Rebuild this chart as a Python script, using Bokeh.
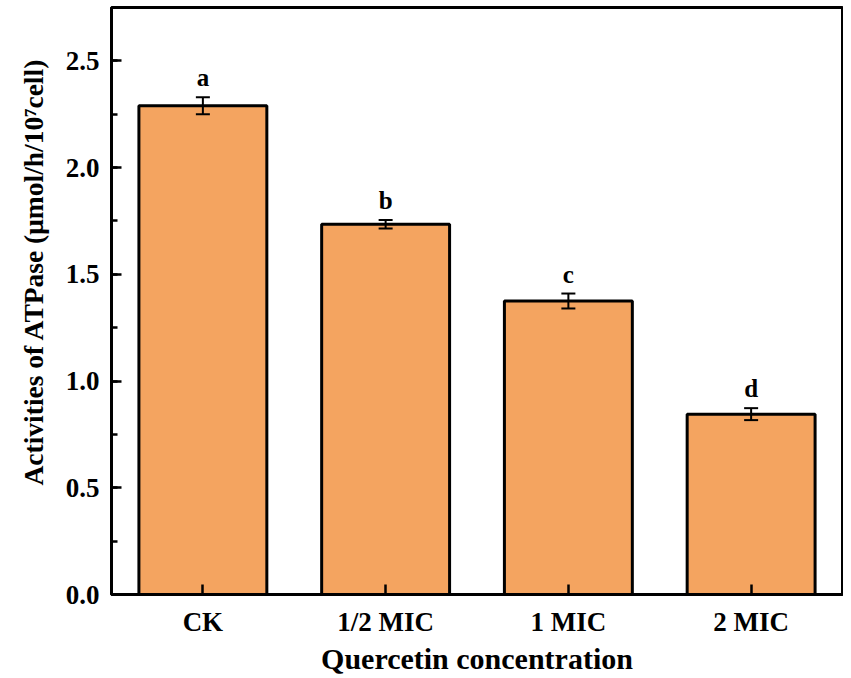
from bokeh.plotting import figure
from bokeh.models import (ColumnDataSource, Whisker, TeeHead, Title, FactorRange,
                          Range1d, SingleIntervalTicker, NumeralTickFormatter)
from bokeh.core.properties import value
from bokeh.embed import file_html
from bokeh.resources import INLINE

categories = ["CK", "1/2 MIC", "1 MIC", "2 MIC"]
activity = [2.29, 1.735, 1.375, 0.845]
errors = [0.04, 0.02, 0.035, 0.028]
letters = ["a", "b", "c", "d"]

FONT = "Liberation Serif"
BAR = "#F4A460"

upper = [v + e for v, e in zip(activity, errors)]
lower = [v - e for v, e in zip(activity, errors)]
src = ColumnDataSource(dict(cat=categories, val=activity, upper=upper,
                            lower=lower, letter=letters))

p = figure(x_range=FactorRange(*categories, range_padding=0),
           y_range=Range1d(0, 2.75),
           width=843, height=677, output_backend="svg", toolbar_location=None,
           min_border_left=111, min_border_right=1, min_border_top=7,
           min_border_bottom=81)

p.vbar(x="cat", top="val", width=0.7, source=src, fill_color=BAR,
       line_color="black", line_width=3)

wh = Whisker(base="cat", upper="upper", lower="lower", source=src,
             line_width=2, line_color="black", level="annotation",
             upper_head=TeeHead(size=14, line_width=2, line_color="black"),
             lower_head=TeeHead(size=14, line_width=2, line_color="black"))
p.add_layout(wh)

p.text(x="cat", y="upper", text="letter", source=src, text_align="center",
       text_baseline="bottom", y_offset=-6, text_font=value(FONT),
       text_font_style="bold", text_font_size="25px", text_color="black")

p.xgrid.visible = False
p.ygrid.visible = False
p.outline_line_color = "black"
p.outline_line_width = 3
p.outline_line_alpha = 1

p.yaxis.ticker = SingleIntervalTicker(interval=0.5, num_minor_ticks=2)
p.yaxis.formatter = NumeralTickFormatter(format="0.0")

for ax in (p.xaxis, p.yaxis):
    ax.axis_line_width = 3
    ax.axis_line_color = "black"
    ax.major_tick_line_width = 2.5
    ax.major_tick_line_color = "black"
    ax.major_tick_in = 10
    ax.major_tick_out = 0
    ax.minor_tick_line_width = 2.5
    ax.minor_tick_line_color = "black"
    ax.minor_tick_in = 6
    ax.minor_tick_out = 0
    ax.major_label_text_font = FONT
    ax.major_label_text_font_style = "bold"
    ax.major_label_text_font_size = "27px"
    ax.major_label_text_color = "black"
    ax.axis_label_text_font = FONT
    ax.axis_label_text_font_style = "bold"
    ax.axis_label_text_font_size = "30px"
    ax.axis_label_text_color = "black"

p.yaxis.major_label_standoff = 12
p.xaxis.major_label_standoff = 12
p.xaxis.axis_label = "Quercetin concentration"
p.xaxis.axis_label_standoff = 2

ylab = Title(text="Activities of ATPase (\u03bcmol/h/10\u2077cell)",
             align="left", offset=109, standoff=28,
             text_font=FONT, text_font_style="bold",
             text_font_size="27.5px", text_color="black")
p.add_layout(ylab, "left")

open("out.html", "w").write(file_html(p, INLINE))
